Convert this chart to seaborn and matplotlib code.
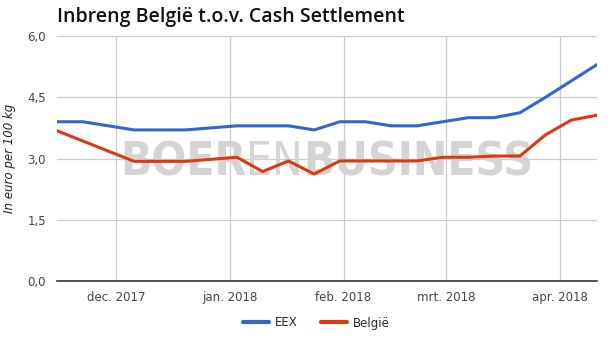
import matplotlib
matplotlib.use("Agg")
import matplotlib.pyplot as plt
from matplotlib.font_manager import FontProperties, findfont
from matplotlib.lines import Line2D
import seaborn as sns
import pandas as pd
import numpy as np

# ---- data ----
weeks = pd.date_range("2017-11-15", "2018-04-11", freq="7D")
eex = [3.9, 3.9, 3.8, 3.7, 3.7, 3.7, 3.75, 3.8, 3.8, 3.8, 3.7,
       3.9, 3.9, 3.8, 3.8, 3.9, 4.0, 4.0, 4.12, 4.5, 4.9, 5.3]
belgie = [3.68, 3.43, 3.18, 2.93, 2.93, 2.93, 2.98, 3.03, 2.68, 2.94, 2.62,
          2.94, 2.94, 2.94, 2.94, 3.03, 3.03, 3.06, 3.06, 3.58, 3.94, 4.06]
series_names = ["EEX", "België"]
month_ticks = pd.to_datetime(["2017-12-01", "2018-01-01", "2018-02-01",
                              "2018-03-01", "2018-04-01"])
month_labels = ["dec. 2017", "jan. 2018", "feb. 2018", "mrt. 2018", "apr. 2018"]
y_ticks = [0.0, 1.5, 3.0, 4.5, 6.0]
y_labels = ["0,0", "1,5", "3,0", "4,5", "6,0"]
title = "Inbreng België t.o.v. Cash Settlement"
ylabel = "In euro per 100 kg"
watermark_parts = ["BOER", "EN", "BUSINESS"]

df = pd.DataFrame({
    "date": list(weeks) * 2,
    "value": eex + belgie,
    "serie": [series_names[0]] * len(eex) + [series_names[1]] * len(belgie),
})

sns.set_theme(style="white")
plt.rcParams["font.family"] = ["DejaVu Sans"]

W, H = 608, 341
fig = plt.figure(figsize=(W / 100, H / 100), dpi=100)
ax = fig.add_axes([57 / W, 1 - 281 / H, 540 / W, 245 / H])

palette = {"EEX": "#3366cc", "België": "#dc3912"}
sns.lineplot(data=df, x="date", y="value", hue="serie", palette=palette,
             linewidth=2.2, ax=ax, legend=False, zorder=3)

ax.set_xlim(pd.Timestamp("2017-11-15"), pd.Timestamp("2018-04-11"))
ax.set_ylim(0, 6.0)
ax.set_yticks(y_ticks)
ax.set_yticklabels(y_labels)
ax.set_xticks(month_ticks)
ax.set_xticklabels(month_labels)
ax.tick_params(axis="both", length=0, labelsize=8.5, colors="#444444")
ax.tick_params(axis="x", pad=7)
ax.tick_params(axis="y", pad=8)
ax.grid(True, color="#cccccc", linewidth=0.9)
ax.set_axisbelow(True)
for s in ["top", "right", "left"]:
    ax.spines[s].set_visible(False)
ax.spines["bottom"].set_color("#333333")
ax.spines["bottom"].set_linewidth(1.2)
ax.spines["bottom"].set_zorder(4)
ax.set_xlabel("")
ax.set_ylabel("")

# ---- pick a condensed font for the watermark if one is installed ----
def pick_condensed():
    cands = [("Liberation Sans Narrow", "normal"), ("DejaVu Sans", "condensed"),
             ("Roboto Condensed", "normal"), ("Open Sans", "condensed")]
    for fam, stretch in cands:
        try:
            p = findfont(FontProperties(family=fam, stretch=stretch, weight="bold"),
                         fallback_to_default=False)
            if "ondensed" in p or "arrow" in p:
                return fam, stretch
        except Exception:
            pass
    return "DejaVu Sans", "normal"

wm_fam, wm_stretch = pick_condensed()
renderer = fig.canvas.get_renderer()

weights = ["bold", "light", "bold"]
base_fs = 34
wm_texts = []
for part, wt in zip(watermark_parts, weights):
    t = fig.text(0, 1 - 175 / H, part, fontsize=base_fs, color="#d4d4d4",
                 fontweight=wt, family=wm_fam, stretch=wm_stretch,
                 ha="left", va="baseline", zorder=2)
    wm_texts.append(t)
total = sum(t.get_window_extent(renderer).width for t in wm_texts)
fs = base_fs * 414 / total
x = 120
for t in wm_texts:
    t.set_fontsize(fs)
    t.set_x(x / W)
    x += t.get_window_extent(renderer).width
for t in wm_texts:
    t.remove()
    ax.add_artist(t)
    t.set_transform(fig.transFigure)
    t.set_zorder(2)

tt = fig.text(57 / W, 1 - 17 / H, title, fontsize=13, fontweight="semibold",
              family="Open Sans", color="#111111", ha="left", va="center")
bb = tt.get_window_extent(renderer)
tt.set_fontsize(min(14, 13 * 352 / bb.width))

fig.text(10 / W, 1 - 158 / H, ylabel, fontsize=8.5, style="italic",
         color="#222222", rotation=90, ha="center", va="center")

handles = [Line2D([], [], color=palette[n], linewidth=3) for n in series_names]
fig.legend(handles, series_names, loc="center", bbox_to_anchor=(0.52, 1 - 323 / H),
           ncol=2, frameon=False, fontsize=8.5, handlelength=2.2,
           handletextpad=0.5, columnspacing=2.0)

fig.savefig("out.png", dpi=100)
